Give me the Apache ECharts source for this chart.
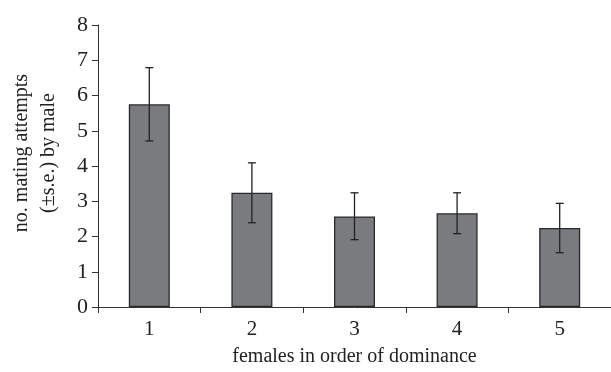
<!DOCTYPE html>
<html>
<head>
<meta charset="utf-8">
<script src="https://cdn.jsdelivr.net/npm/echarts@6/dist/echarts.min.js"></script>
<style>html,body{margin:0;padding:0;background:#fff}#c{width:611px;height:372px}</style>
</head>
<body>
<div id="c"></div>
<script>
var categories = ['1', '2', '3', '4', '5'];
var means = [5.75, 3.24, 2.57, 2.66, 2.24];
var errUpper = [6.79, 4.09, 3.24, 3.24, 2.94];
var errLower = [4.71, 2.39, 1.91, 2.08, 1.54];
var yTicks = [0, 1, 2, 3, 4, 5, 6, 7, 8];

var FONT = 'Liberation Serif';
var chart = echarts.init(document.getElementById('c'), null, {renderer: 'canvas'});
var errData = categories.map(function (c, i) { return [i, errLower[i], errUpper[i]]; });

chart.setOption({
  animation: false,
  backgroundColor: '#fff',
  grid: {left: 98, top: 25, width: 516, bottom: 65, containLabel: false},
  xAxis: {
    type: 'category',
    data: categories,
    name: 'females in order of dominance',
    nameLocation: 'middle',
    nameGap: 40,
    nameTextStyle: {fontFamily: FONT, fontSize: 20, color: '#222'},
    axisLine: {lineStyle: {color: '#333', width: 1}},
    axisTick: {show: true, length: 6, lineStyle: {color: '#333'}},
    axisLabel: {fontFamily: FONT, fontSize: 21, color: '#222', margin: 12},
    splitLine: {show: false}
  },
  yAxis: {
    type: 'value',
    min: yTicks[0],
    max: yTicks[yTicks.length - 1],
    interval: 1,
    axisLine: {show: true, lineStyle: {color: '#333', width: 1}},
    axisTick: {show: true, length: 6, lineStyle: {color: '#333'}},
    axisLabel: {fontFamily: FONT, fontSize: 22, color: '#222', margin: 10},
    splitLine: {show: false}
  },
  graphic: [{
    type: 'text',
    x: 35,
    y: 153,
    rotation: Math.PI / 2,
    style: {
      text: 'no. mating attempts\n(±s.e.) by male',
      font: '20px "' + FONT + '"',
      fill: '#222',
      align: 'center',
      verticalAlign: 'middle',
      textAlign: 'center',
      textVerticalAlign: 'middle',
      lineHeight: 27
    }
  }],
  series: [{
    type: 'bar',
    data: means,
    barWidth: 41,
    itemStyle: {color: '#7a7b7f', borderColor: '#2a2a2a', borderWidth: 1.3},
    z: 2
  }, {
    type: 'custom',
    data: errData,
    z: 3,
    renderItem: function (params, api) {
      var x = api.value(0);
      var lo = api.coord([x, api.value(1)]);
      var hi = api.coord([x, api.value(2)]);
      var hw = 4;
      var st = {stroke: '#222', lineWidth: 1.3};
      return {
        type: 'group',
        children: [
          {type: 'line', shape: {x1: lo[0], y1: lo[1], x2: hi[0], y2: hi[1]}, style: st},
          {type: 'line', shape: {x1: hi[0] - hw, y1: hi[1], x2: hi[0] + hw, y2: hi[1]}, style: st},
          {type: 'line', shape: {x1: lo[0] - hw, y1: lo[1], x2: lo[0] + hw, y2: lo[1]}, style: st}
        ]
      };
    }
  }]
});
</script>
</body>
</html>
